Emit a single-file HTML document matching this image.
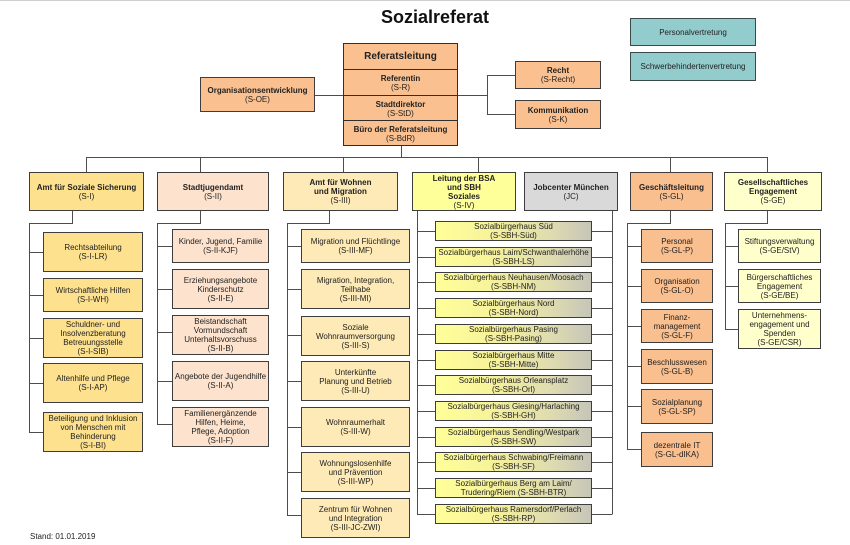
<!DOCTYPE html>
<html><head><meta charset="utf-8">
<style>
html,body{margin:0;padding:0;background:#fff;}
body{width:850px;height:545px;position:relative;overflow:hidden;font-family:"Liberation Sans",Arial,sans-serif;color:#222;}
.top{position:absolute;left:0;top:0;width:850px;height:1px;background:#cfcfcf;}
.b{position:absolute;box-sizing:border-box;border:1px solid #3d3d3d;display:flex;flex-direction:column;align-items:center;justify-content:center;text-align:center;font-size:8px;line-height:9px;white-space:nowrap;}
.b b{font-weight:bold;}
.o{background:#fac090;}
.y1{background:#fde18e;}
.p2{background:#fde3cd;}
.y3{background:#feeab6;}
.bsa{background:#ffff99;}
.jc{background:#d9d9d9;}
.gl{background:#fabf8f;}
.ge{background:#ffffcc;}
.t{background:#93cccc;border-color:#3a4a4a;}
.s{background:linear-gradient(to right,#ffff99 0%,#f7f39a 35%,#dedbb0 75%,#c6c5b8 100%);}
.title{position:absolute;left:300px;width:270px;top:6px;text-align:center;font-size:18px;font-weight:bold;line-height:22px;color:#111;}
.rl{position:absolute;left:343px;top:43px;width:115px;height:103px;box-sizing:border-box;border:1px solid #2f2f2f;background:#fac090;}
.rl div{position:absolute;left:0;width:113px;display:flex;flex-direction:column;align-items:center;justify-content:center;text-align:center;font-size:8px;line-height:9px;border-top:1px solid #2f2f2f;box-sizing:border-box;}
svg{position:absolute;left:0;top:0;}
.stand{position:absolute;left:30px;top:532px;font-size:8px;line-height:10px;}
</style></head><body>
<div class="top"></div>
<svg width="850" height="545" viewBox="0 0 850 545">
<g stroke="#4d4d4d" stroke-width="1" fill="none">
<path d="M315 95.5H343M458 95.5H487.5M487.5 75V115M487 75.5H515M487 114.5H515M401.5 146V157.5M86 157.5H768"/>
<path d="M86.5 157V172M200.5 157V172M343.5 157V172M478.5 157V172M670.5 157V172M767.5 157V172"/>
<!-- col1 -->
<path d="M72.5 210V223.5H29.5V432.5M29 252.5H43M29 295.5H43M29 338.5H43M29 383.5H43M29 432.5H43"/>
<!-- col2 -->
<path d="M200.5 210V223.5H157.5V424.5M157 246.5H172M157 289.5H172M157 332.5H172M157 381.5H172M157 424.5H172"/>
<!-- col3 -->
<path d="M329.5 210V223.5H287.5V515.5M287 246.5H301M287 289.5H301M287 335.5H301M287 381.5H301M287 427.5H301M287 472.5H301M287 515.5H301"/>
<!-- BSA / JC -->
<path d="M417.5 210V514.5M612.5 210V514.5"/>
<path d="M417 231.5H435M417 257.5H435M417 282.5H435M417 308.5H435M417 334.5H435M417 360.5H435M417 385.5H435M417 411.5H435M417 437.5H435M417 462.5H435M417 488.5H435M417 514.5H435"/>
<path d="M592 231.5H612M592 257.5H612M592 282.5H612M592 308.5H612M592 334.5H612M592 360.5H612M592 385.5H612M592 411.5H612M592 437.5H612M592 462.5H612M592 488.5H612M592 514.5H612"/>
<!-- GL -->
<path d="M670.5 210V223.5H627.5V449.5M627 246.5H641M627 286.5H641M627 326.5H641M627 366.5H641M627 406.5H641M627 449.5H641"/>
<!-- GE -->
<path d="M767.5 210V223.5H725.5V329.5M725 246.5H738M725 286.5H738M725 329.5H738"/>
</g>
</svg>

<div class="title">Sozialreferat</div>

<div class="b t" style="left:630px;top:18px;width:126px;height:28px;">Personalvertretung</div>
<div class="b t" style="left:630px;top:52px;width:126px;height:29px;">Schwerbehindertenvertretung</div>

<div class="rl">
<div style="top:0;height:26px;border-top:none;font-size:10px;font-weight:bold;line-height:12px;">Referatsleitung</div>
<div style="top:25px;height:26px;"><b>Referentin</b>(S-R)</div>
<div style="top:51px;height:26px;"><b>Stadtdirektor</b>(S-StD)</div>
<div style="top:76px;height:26px;"><b>Büro der Referatsleitung</b>(S-BdR)</div>
</div>

<div class="b o" style="left:200px;top:77px;width:115px;height:35px;"><b>Organisationsentwicklung</b>(S-OE)</div>
<div class="b o" style="left:515px;top:61px;width:86px;height:28px;"><b>Recht</b>(S-Recht)</div>
<div class="b o" style="left:515px;top:100px;width:86px;height:29px;"><b>Kommunikation</b>(S-K)</div>

<!-- headers -->
<div class="b y1" style="left:29px;top:172px;width:115px;height:39px;"><b>Amt für Soziale Sicherung</b>(S-I)</div>
<div class="b p2" style="left:157px;top:172px;width:112px;height:39px;"><b>Stadtjugendamt</b>(S-II)</div>
<div class="b y3" style="left:283px;top:172px;width:115px;height:39px;"><b>Amt für Wohnen</b><b>und Migration</b>(S-III)</div>
<div class="b bsa" style="left:412px;top:172px;width:104px;height:39px;"><b>Leitung der BSA</b><b>und SBH</b><b>Soziales</b>(S-IV)</div>
<div class="b jc" style="left:524px;top:172px;width:94px;height:39px;"><b>Jobcenter München</b>(JC)</div>
<div class="b gl" style="left:630px;top:172px;width:83px;height:39px;"><b>Geschäftsleitung</b>(S-GL)</div>
<div class="b ge" style="left:724px;top:172px;width:98px;height:39px;"><b>Gesellschaftliches</b><b>Engagement</b>(S-GE)</div>

<!-- col1 -->
<div class="b y1" style="left:43px;top:232px;width:100px;height:40px;">Rechtsabteilung<br>(S-I-LR)</div>
<div class="b y1" style="left:43px;top:278px;width:100px;height:34px;">Wirtschaftliche Hilfen<br>(S-I-WH)</div>
<div class="b y1" style="left:43px;top:318px;width:100px;height:40px;">Schuldner- und<br>Insolvenzberatung<br>Betreuungsstelle<br>(S-I-SIB)</div>
<div class="b y1" style="left:43px;top:363px;width:100px;height:40px;">Altenhilfe und Pflege<br>(S-I-AP)</div>
<div class="b y1" style="left:43px;top:412px;width:100px;height:40px;">Beteiligung und Inklusion<br>von Menschen mit<br>Behinderung<br>(S-I-BI)</div>

<!-- col2 -->
<div class="b p2" style="left:172px;top:229px;width:97px;height:34px;">Kinder, Jugend, Familie<br>(S-II-KJF)</div>
<div class="b p2" style="left:172px;top:269px;width:97px;height:40px;">Erziehungsangebote<br>Kinderschutz<br>(S-II-E)</div>
<div class="b p2" style="left:172px;top:315px;width:97px;height:40px;">Beistandschaft<br>Vormundschaft<br>Unterhaltsvorschuss<br>(S-II-B)</div>
<div class="b p2" style="left:172px;top:361px;width:97px;height:40px;">Angebote der Jugendhilfe<br>(S-II-A)</div>
<div class="b p2" style="left:172px;top:407px;width:97px;height:40px;">Familienergänzende<br>Hilfen, Heime,<br>Pflege, Adoption<br>(S-II-F)</div>

<!-- col3 -->
<div class="b y3" style="left:301px;top:229px;width:109px;height:34px;">Migration und Flüchtlinge<br>(S-III-MF)</div>
<div class="b y3" style="left:301px;top:269px;width:109px;height:40px;">Migration, Integration,<br>Teilhabe<br>(S-III-MI)</div>
<div class="b y3" style="left:301px;top:316px;width:109px;height:40px;">Soziale<br>Wohnraumversorgung<br>(S-III-S)</div>
<div class="b y3" style="left:301px;top:361px;width:109px;height:40px;">Unterkünfte<br>Planung und Betrieb<br>(S-III-U)</div>
<div class="b y3" style="left:301px;top:407px;width:109px;height:40px;">Wohnraumerhalt<br>(S-III-W)</div>
<div class="b y3" style="left:301px;top:452px;width:109px;height:40px;">Wohnungslosenhilfe<br>und Prävention<br>(S-III-WP)</div>
<div class="b y3" style="left:301px;top:498px;width:109px;height:40px;">Zentrum für Wohnen<br>und Integration<br>(S-III-JC-ZWI)</div>

<!-- SBH -->
<div class="b s" style="left:435px;top:221px;width:157px;height:20px;">Sozialbürgerhaus Süd<br>(S-SBH-Süd)</div>
<div class="b s" style="left:435px;top:247px;width:157px;height:20px;">Sozialbürgerhaus Laim/Schwanthalerhöhe<br>(S-SBH-LS)</div>
<div class="b s" style="left:435px;top:272px;width:157px;height:20px;">Sozialbürgerhaus Neuhausen/Moosach<br>(S-SBH-NM)</div>
<div class="b s" style="left:435px;top:298px;width:157px;height:20px;">Sozialbürgerhaus Nord<br>(S-SBH-Nord)</div>
<div class="b s" style="left:435px;top:324px;width:157px;height:20px;">Sozialbürgerhaus Pasing<br>(S-SBH-Pasing)</div>
<div class="b s" style="left:435px;top:350px;width:157px;height:20px;">Sozialbürgerhaus Mitte<br>(S-SBH-Mitte)</div>
<div class="b s" style="left:435px;top:375px;width:157px;height:20px;">Sozialbürgerhaus Orleansplatz<br>(S-SBH-Orl)</div>
<div class="b s" style="left:435px;top:401px;width:157px;height:20px;">Sozialbürgerhaus Giesing/Harlaching<br>(S-SBH-GH)</div>
<div class="b s" style="left:435px;top:427px;width:157px;height:20px;">Sozialbürgerhaus Sendling/Westpark<br>(S-SBH-SW)</div>
<div class="b s" style="left:435px;top:452px;width:157px;height:20px;">Sozialbürgerhaus Schwabing/Freimann<br>(S-SBH-SF)</div>
<div class="b s" style="left:435px;top:478px;width:157px;height:20px;">Sozialbürgerhaus Berg am Laim/<br>Trudering/Riem (S-SBH-BTR)</div>
<div class="b s" style="left:435px;top:504px;width:157px;height:20px;">Sozialbürgerhaus Ramersdorf/Perlach<br>(S-SBH-RP)</div>

<!-- GL -->
<div class="b gl" style="left:641px;top:229px;width:72px;height:34px;">Personal<br>(S-GL-P)</div>
<div class="b gl" style="left:641px;top:269px;width:72px;height:34px;">Organisation<br>(S-GL-O)</div>
<div class="b gl" style="left:641px;top:309px;width:72px;height:34px;">Finanz-<br>management<br>(S-GL-F)</div>
<div class="b gl" style="left:641px;top:349px;width:72px;height:35px;">Beschlusswesen<br>(S-GL-B)</div>
<div class="b gl" style="left:641px;top:389px;width:72px;height:35px;">Sozialplanung<br>(S-GL-SP)</div>
<div class="b gl" style="left:641px;top:432px;width:72px;height:35px;">dezentrale IT<br>(S-GL-dIKA)</div>

<!-- GE -->
<div class="b ge" style="left:738px;top:229px;width:83px;height:34px;">Stiftungsverwaltung<br>(S-GE/StV)</div>
<div class="b ge" style="left:738px;top:269px;width:83px;height:34px;">Bürgerschaftliches<br>Engagement<br>(S-GE/BE)</div>
<div class="b ge" style="left:738px;top:309px;width:83px;height:40px;">Unternehmens-<br>engagement und<br>Spenden<br>(S-GE/CSR)</div>

<div class="stand">Stand: 01.01.2019</div>
</body></html>
